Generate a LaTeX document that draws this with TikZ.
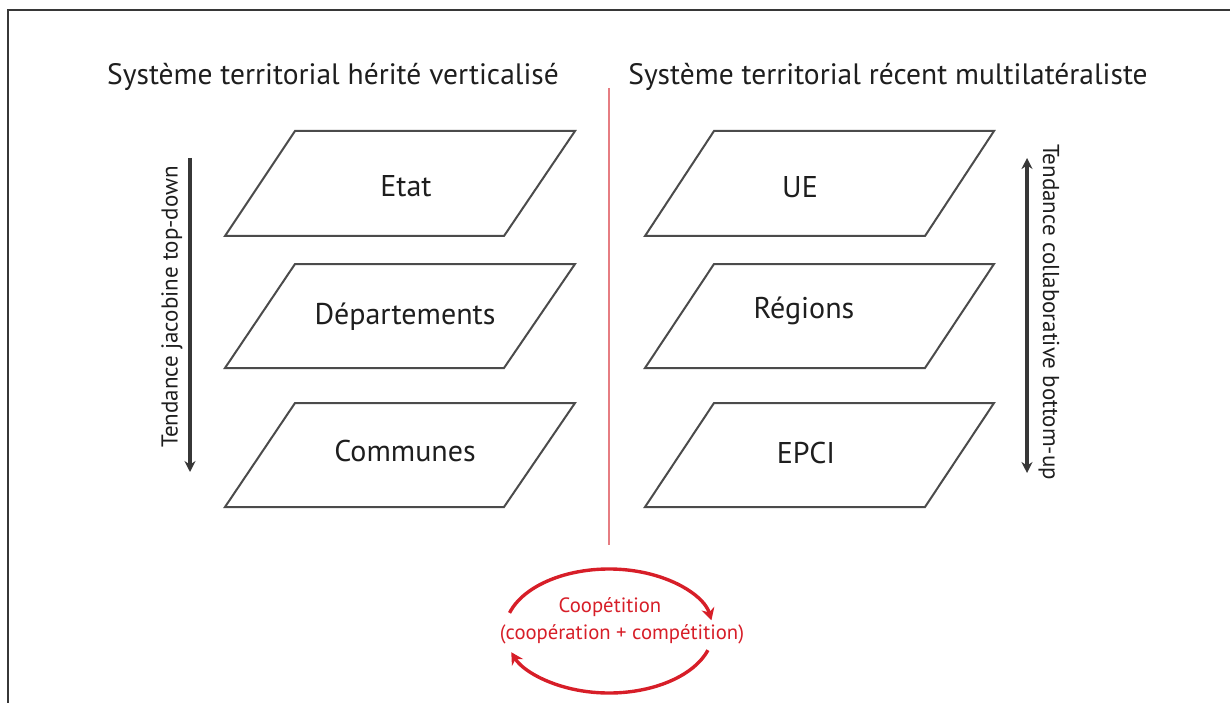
\documentclass[tikz,border=0pt]{standalone}
\usepackage{fontspec}
\setmainfont{PT Sans}
\usetikzlibrary{arrows.meta}
\definecolor{frameg}{RGB}{55,55,55}
\definecolor{shapeg}{RGB}{75,75,75}
\definecolor{txtg}{RGB}{30,30,30}
\definecolor{redl}{RGB}{230,125,130}
\definecolor{redc}{RGB}{215,30,40}
\tikzset{
  plane/.style={draw=shapeg,line width=2pt,line join=miter},
  planelabel/.style={text=txtg,font=\fontsize{30}{34}\selectfont,inner sep=0pt},
  title/.style={text=txtg,font=\fontsize{29.5}{34}\selectfont,inner sep=0pt},
  sidelabel/.style={text=txtg,font=\fontsize{23}{26}\selectfont,inner sep=0pt},
  trend/.style={draw=frameg,line width=3.4pt},
  cycle/.style={draw=redc,line width=3.4pt,-{Stealth[length=12pt,width=13pt]}},
  redtext/.style={text=redc,font=\fontsize{20.7}{24}\selectfont,inner sep=0pt,align=center}
}
\begin{document}
\begin{tikzpicture}[x=1pt,y=-1pt]
\useasboundingbox (0,0) rectangle (1230,703);
% frame
\draw[frameg,line width=2.2pt] (8,703) -- (8,10) -- (1230,10);
% titles
\node[title] (tl) at (333,77) {Système territorial hérité verticalisé};
\node[title] (tr) at (888,77) {Système territorial récent multilatéraliste};
% separator
\coordinate (sepA) at (609,88);
\coordinate (sepB) at (609,545);
\draw[redl,line width=2.4pt] (sepA) -- (sepB);
% left planes
\foreach \n/\t/\b in {etat/131/236,dep/264/368,com/403/507}{
  \draw[plane] (295,\t) -- (575,\t) -- (504,\b) -- (225,\b) -- cycle;
}
% right planes
\foreach \n/\t/\b in {ue/131/236,reg/264/368,epci/403/507}{
  \draw[plane] (714,\t) -- (994,\t) -- (925,\b) -- (645,\b) -- cycle;
}
\node[planelabel] (etat) at (406,186) {Etat};
\node[planelabel] (dep) at (405,317) {Départements};
\node[planelabel] (com) at (405,451) {Communes};
\node[planelabel] (ue) at (800,187) {UE};
\node[planelabel] (reg) at (804,311) {Régions};
\node[planelabel] (epci) at (806,453) {EPCI};
% trend arrows
\coordinate (la) at (190,158);
\coordinate (lb) at (190,472);
\draw[trend,-{Stealth[length=11pt,width=11pt]}] (la) -- (lb);
\node[sidelabel,rotate=90] (ltxt) at (172,307) {Tendance jacobine top-down};
\coordinate (ra) at (1027,158);
\coordinate (rb) at (1027,473);
\draw[trend,{Stealth[length=11pt,width=11pt]}-{Stealth[length=11pt,width=11pt]}] (ra) -- (rb);
\node[sidelabel,rotate=-90] (rtxt) at (1049,312) {Tendance collaborative bottom-up};
% coopetition
\coordinate (cc) at (609,631);
\draw[cycle] (cc) ++(197:104 and 62) arc[start angle=197,end angle=350,x radius=104,y radius=62];
\draw[cycle] (cc) ++(18:104 and 62) arc[start angle=18,end angle=160,x radius=104,y radius=62];
\node[redtext] (coop) at (610,607) {Coopétition};
\node[redtext] (coop2) at (622,634) {(coopération + compétition)};
\end{tikzpicture}
\end{document}
